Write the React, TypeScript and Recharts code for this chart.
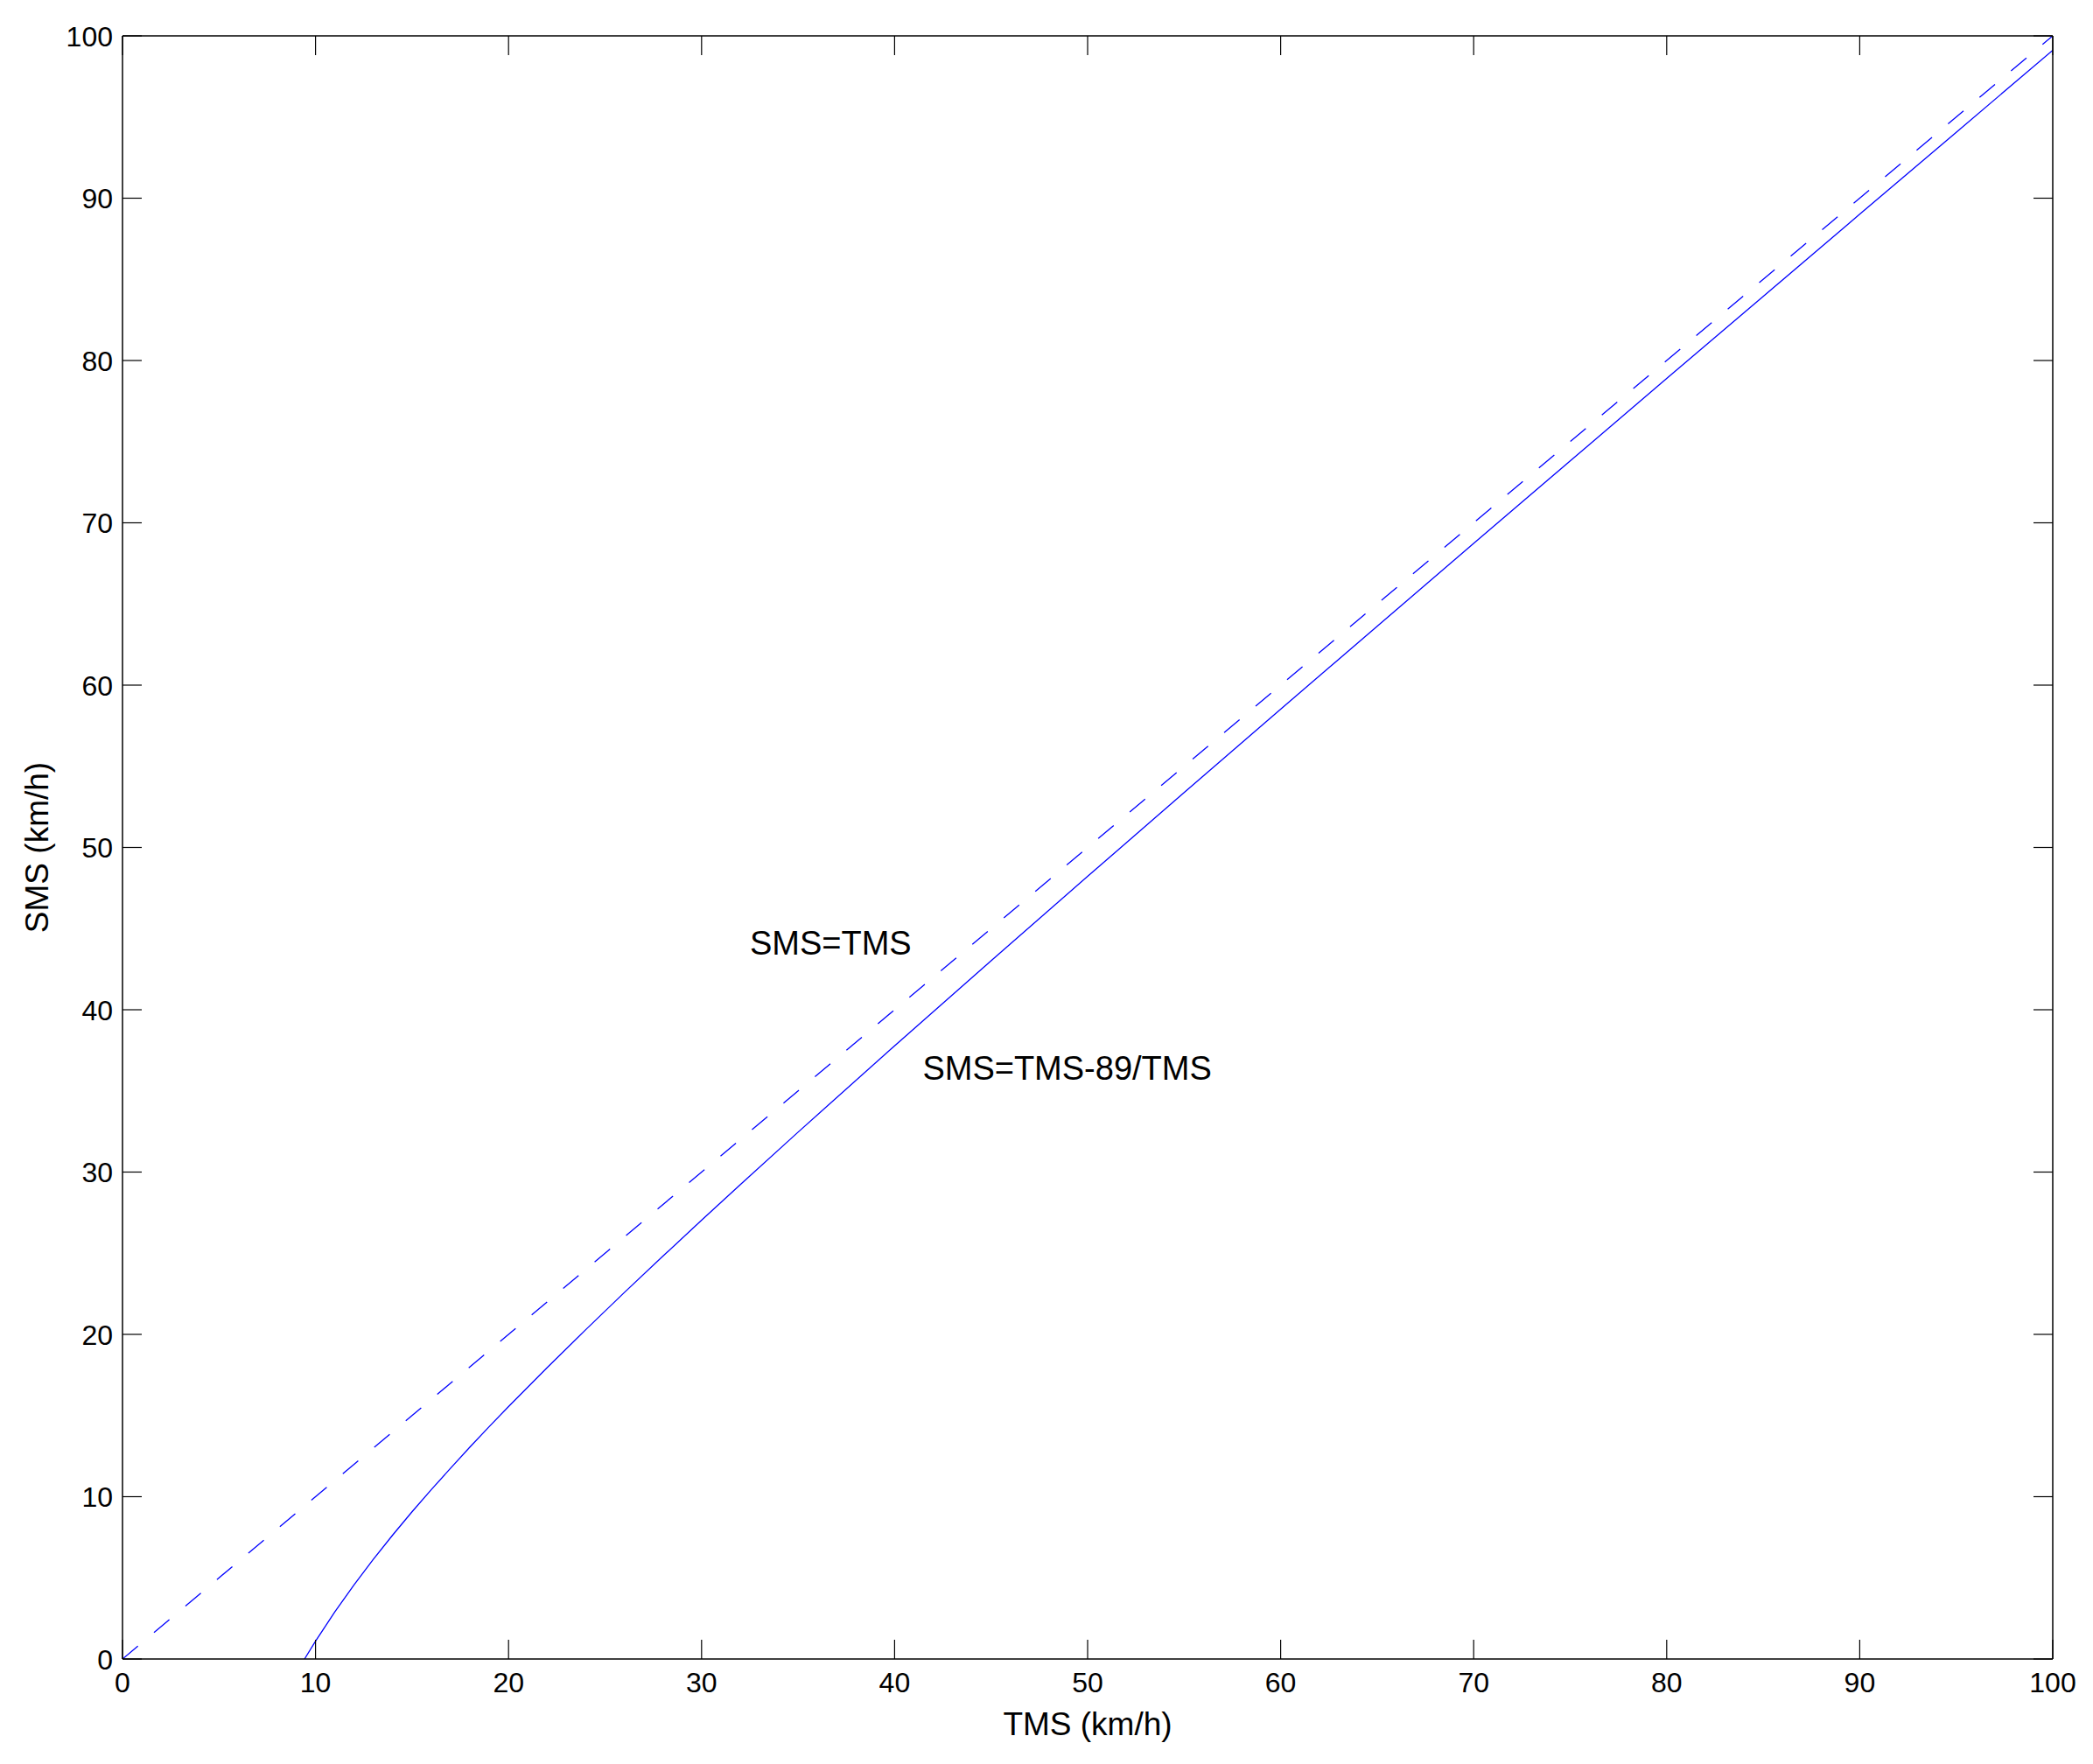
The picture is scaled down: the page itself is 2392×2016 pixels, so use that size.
import React from "react";
import {
  LineChart,
  Line,
  XAxis,
  YAxis,
  ReferenceDot,
  Label,
} from "recharts";

// tick values shared by both axes
const axisTicks = [0, 10, 20, 30, 40, 50, 60, 70, 80, 90, 100];

// dashed reference line SMS = TMS
const identityTms = [0, 100];
const identitySms = [0, 100];

// solid curve SMS = TMS - 89/TMS
const curveTms = [
  9.43, 10, 11, 12, 13, 14, 15, 16, 17, 18, 19, 20, 22, 24, 26, 28, 30, 32, 35,
  40, 45, 50, 55, 60, 65, 70, 75, 80, 85, 90, 95, 100,
];
const curveSms = [
  0, 1.1, 2.91, 4.58, 6.15, 7.64, 9.07, 10.44, 11.76, 13.06, 14.32, 15.55,
  17.95, 20.29, 22.58, 24.82, 27.03, 29.22, 32.46, 37.78, 43.02, 48.22, 53.38,
  58.52, 63.63, 68.73, 73.81, 78.89, 83.95, 89.01, 94.06, 99.11,
];

// text annotations, placed in data units
const notes = [
  { text: "SMS=TMS", tms: 32.5, sms: 43.4 },
  { text: "SMS=TMS-89/TMS", tms: 41.45, sms: 35.7 },
];

const identityData = identityTms.map((x, i) => ({ x, y: identitySms[i] }));
const curveData = curveTms.map((x, i) => ({ x, y: curveSms[i] }));

const FONT = "'Liberation Sans', Arial, Helvetica, sans-serif";
const BLUE = "#0000ff";
const TICK_LEN = 22;

const BottomTick = (props: any) => {
  const { x, y, payload } = props;
  return (
    <g>
      <line x1={x} y1={y} x2={x} y2={y - TICK_LEN} stroke="#000" strokeWidth={1.2} />
      <text x={x} y={y + 38} textAnchor="middle" fontSize={32} fontFamily={FONT} fill="#000">
        {payload.value}
      </text>
    </g>
  );
};

const LeftTick = (props: any) => {
  const { x, y, payload } = props;
  return (
    <g>
      <line x1={x} y1={y} x2={x + TICK_LEN} y2={y} stroke="#000" strokeWidth={1.2} />
      <text x={x - 11} y={y + 11.5} textAnchor="end" fontSize={32} fontFamily={FONT} fill="#000">
        {payload.value}
      </text>
    </g>
  );
};

const TopTick = (props: any) => {
  const { x, y } = props;
  return <line x1={x} y1={y} x2={x} y2={y + TICK_LEN} stroke="#000" strokeWidth={1.2} />;
};

const RightTick = (props: any) => {
  const { x, y } = props;
  return <line x1={x} y1={y} x2={x - TICK_LEN} y2={y} stroke="#000" strokeWidth={1.2} />;
};

const NoteText = (text: string) => (props: any) => (
  <text x={props.cx} y={props.cy} fontSize={38} fontFamily={FONT} fill="#000">
    {text}
  </text>
);

export default function App() {
  return (
    <div style={{ position: "absolute", left: 0, top: 0, background: "#fff" }}>
      <LineChart
        width={2392}
        height={2016}
        margin={{ top: 40, right: 45, left: 0, bottom: 0 }}
      >
        <XAxis
          dataKey="x"
          type="number"
          domain={[0, 100]}
          ticks={axisTicks}
          height={120}
          tickSize={0}
          tickMargin={0}
          tick={<BottomTick />}
          axisLine={{ stroke: "#000", strokeWidth: 1.5 }}
          allowDataOverflow
        >
          <Label
            content={(p: any) => (
              <text
                x={p.viewBox.x + p.viewBox.width / 2}
                y={p.viewBox.y + 87}
                textAnchor="middle"
                fontSize={37}
                fontFamily={FONT}
                fill="#000"
              >
                TMS (km/h)
              </text>
            )}
          />
        </XAxis>
        <XAxis
          xAxisId="top"
          dataKey="x"
          orientation="top"
          type="number"
          domain={[0, 100]}
          ticks={axisTicks}
          height={1}
          tickSize={0}
          tickMargin={0}
          tick={<TopTick />}
          axisLine={{ stroke: "#000", strokeWidth: 1.5 }}
          allowDataOverflow
        />
        <YAxis
          type="number"
          domain={[0, 100]}
          ticks={axisTicks}
          width={140}
          tickSize={0}
          tickMargin={0}
          tick={<LeftTick />}
          axisLine={{ stroke: "#000", strokeWidth: 1.5 }}
          allowDataOverflow
        >
          <Label
            content={(p: any) => {
              const cx = 42;
              const cy = p.viewBox.y + p.viewBox.height / 2;
              return (
                <text
                  x={cx}
                  y={cy}
                  transform={`rotate(-90, ${cx}, ${cy})`}
                  textAnchor="middle"
                  dominantBaseline="central"
                  fontSize={37}
                  fontFamily={FONT}
                  fill="#000"
                >
                  SMS (km/h)
                </text>
              );
            }}
          />
        </YAxis>
        <YAxis
          yAxisId="right"
          orientation="right"
          type="number"
          domain={[0, 100]}
          ticks={axisTicks}
          width={1}
          tickSize={0}
          tickMargin={0}
          tick={<RightTick />}
          axisLine={{ stroke: "#000", strokeWidth: 1.5 }}
          allowDataOverflow
        />

        {/* invisible series so the box axes (top/right) get drawn */}
        <Line
          xAxisId="top"
          yAxisId="right"
          data={identityData}
          dataKey="y"
          stroke="none"
          dot={false}
          activeDot={false}
          isAnimationActive={false}
        />

        {/* SMS = TMS, dashed */}
        <Line
          data={identityData}
          dataKey="y"
          type="linear"
          stroke={BLUE}
          strokeWidth={1.3}
          strokeDasharray="23 24"
          dot={false}
          activeDot={false}
          isAnimationActive={false}
        />

        {/* SMS = TMS - 89/TMS */}
        <Line
          data={curveData}
          dataKey="y"
          type="linear"
          stroke={BLUE}
          strokeWidth={1.3}
          dot={false}
          activeDot={false}
          isAnimationActive={false}
        />

        {notes.map((n) => (
          <ReferenceDot
            key={n.text}
            x={n.tms}
            y={n.sms}
            r={0}
            shape={NoteText(n.text)}
          />
        ))}
      </LineChart>
    </div>
  );
}
